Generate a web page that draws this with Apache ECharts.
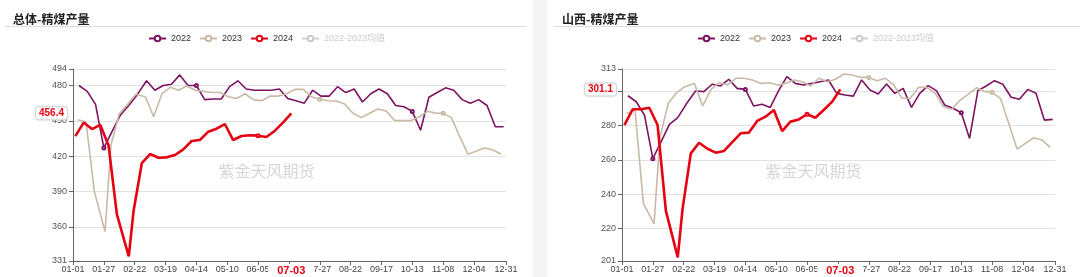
<!DOCTYPE html>
<html><head><meta charset="utf-8">
<script src="https://cdn.jsdelivr.net/npm/echarts@6/dist/echarts.min.js"></script>
<style>
html,body{margin:0;padding:0;background:#f4f4f4;width:1080px;height:277px;overflow:hidden;}
.panel{position:absolute;top:0;height:277px;width:533px;background:#fff;}
#c1{left:0;} #c2{left:547px;}
</style></head><body>
<div id="c1" class="panel"></div><div id="c2" class="panel"></div>
<script>
// ---- categories (leap-year day axis MM-DD) ----
const monthLengths = [31,29,31,30,31,30,31,31,30,31,30,31];
const categories = [];
monthLengths.forEach((n, m) => { for (let d = 1; d <= n; d++) categories.push(String(m + 1).padStart(2, '0') + '-' + String(d).padStart(2, '0')); });

const legendNames = ['2022', '2023', '2024', '2022-2023均值'];

// ---- dates of the weekly observations ----
const dates2022 = ['01-06','01-13','01-20','01-27','02-03','02-10','02-17','02-24','03-03','03-10','03-17','03-24','03-31','04-07','04-14','04-21','04-28','05-05','05-12','05-19','05-26','06-02','06-09','06-16','06-23','06-30','07-07','07-14','07-21','07-28','08-04','08-11','08-18','08-25','09-01','09-08','09-15','09-22','09-29','10-06','10-13','10-20','10-27','11-03','11-10','11-17','11-24','12-01','12-08','12-15','12-22','12-29'];
const dates2023 = ['01-05','01-12','01-19','01-28','02-02','02-09','02-16','02-23','03-02','03-09','03-16','03-23','03-30','04-06','04-13','04-20','04-27','05-04','05-11','05-18','05-25','06-01','06-08','06-15','06-22','06-29','07-06','07-13','07-20','07-27','08-03','08-10','08-17','08-24','08-31','09-07','09-14','09-21','09-28','10-05','10-12','10-19','10-26','11-02','11-08','11-15','11-22','11-29','12-06','12-13','12-20','12-27'];
const dates2024 = ['01-03','01-10','01-17','01-24','01-31','02-07','02-17','02-21','02-28','03-06','03-13','03-20','03-27','04-03','04-10','04-17','04-24','05-01','05-08','05-15','05-22','05-29','06-05','06-12','06-19','06-26','07-03'];

// ---- 总体-精煤产量 ----
const total2022 = [480,475,464,427,441,455,463,472,484,476,480,481,489,480,480,468,468.5,468.5,479,484,477,476,476,476,477,469,467,465,476,471,471,479,474,477,466,473,477,473,463,462,458,442,470,474,478,476,468,465,468,463,445,445];
const total2023 = [451,449,390,356,429.5,456,464,472.5,470.5,453.5,473,478.5,476,479.5,476,475,474,474,470.5,469,473,468,467,471,471,473,476.7,476.7,470.5,468.3,467,466.8,464.3,456.4,452.7,456.4,460,458.3,450.4,450.2,450.2,453.5,458.1,456.4,456.4,452.7,436.6,421.6,424.4,426.9,425.2,421.6];
const total2024 = [437,448.5,443,446.5,429,370.5,335,373,414,421.8,418.7,419,421,425.8,432.9,433.7,440.8,443.3,447.3,433.7,437.1,437.7,437.4,436.3,441.4,448.5,456.4];

// ---- 山西-精煤产量 ----
const sx2022 = [297.4,293.9,286,260.7,270.6,280.7,284.6,292.4,300.2,299.8,304.1,303.1,307,301.7,301.1,291.4,292.4,290.6,300.4,308.5,304.6,303.7,304.6,305.6,306.6,298.8,297.8,297.2,306.6,300.7,298.4,304.2,298.8,301.7,290.6,298.8,303.3,300.4,292,290.1,287.5,272.5,300.4,303.1,306.2,304.1,296.5,295.3,301.1,298.8,283.2,283.6];
const sx2023 = [287.1,289.1,234.6,222.6,273.1,293,299.2,302.7,304.6,291.4,301.1,305,303.7,307.6,307.6,306.6,304.6,305,303.7,304.6,306.6,305.6,303.1,307.6,305.6,307,310.1,309.5,308.1,308.1,306.2,307.6,303.7,295.9,295.9,302.3,302.3,298.8,291,289.5,294.9,298.4,302.1,299.8,299.4,295.9,281.3,266.3,269.6,272.9,271.6,267.3];
const sx2024 = [280.3,289.5,289.5,290.4,280.3,230.2,203.1,231.1,263.8,270,266.5,264.2,265.2,270.4,275.5,275.9,282.7,285.2,289.1,276.8,282.3,283.6,286.6,284.6,289.1,293.8,301.1];

const labelIdx = (i) => (i % 26 === 0 && i <= 338) || i === 365;
const FONT = 'Liberation Sans, Noto Sans CJK SC, sans-serif';
const C22 = '#7d1461', C23 = '#c9baa8', C24 = '#e60012', CAVG = '#bbbbbb';

function pairs(dates, vals) { return dates.map((d, i) => [d, vals[i]]); }

function makeOption(cfg) {
  const line = (name, color, width, data, z) => ({
    name, type: 'line', data, symbol: 'emptyCircle', symbolSize: 3, z,
    lineStyle: { color, width }, itemStyle: { color, borderWidth: 1 }, emphasis: { disabled: true }, animation: false
  });
  return {
    animation: false,
    textStyle: { fontFamily: FONT },
    title: { text: cfg.title, left: cfg.titleLeft, top: 8, textStyle: { fontSize: 12, fontWeight: 'bold', color: '#222', fontFamily: 'Noto Sans CJK SC' } },
    graphic: [
      { type: 'line', shape: { x1: cfg.sepX1, y1: 26.5, x2: cfg.sepX2, y2: 26.5 }, style: { stroke: '#dddddd', lineWidth: 1 }, silent: true },
      { type: 'text', left: 'center', top: 163, style: { text: '紫金天风期货', fill: '#d6d6d6', font: '16px "Noto Sans CJK SC"' }, silent: true, z: 0 }
    ],
    legend: {
      data: legendNames, left: cfg.legendLeft, top: 29, itemWidth: 17, itemHeight: 7, itemGap: 8,
      textStyle: { fontSize: 9, color: '#333', fontFamily: FONT }, inactiveColor: '#cccccc',
      selected: { '2022-2023均值': false }
    },
    grid: { left: cfg.gridLeft, right: cfg.gridRight, top: 69, bottom: 16 },
    xAxis: {
      type: 'category', data: categories, boundaryGap: false,
      axisLine: { lineStyle: { color: '#666' } },
      axisTick: { interval: labelIdx, length: 4, lineStyle: { color: '#666' } },
      axisLabel: { interval: labelIdx, fontSize: 9, color: '#444', margin: 4, fontFamily: FONT },
      splitLine: { show: false },
      axisPointer: {
        show: true, type: 'none', value: 184, status: 'show', triggerTooltip: false,
        label: { show: true, color: C24, fontWeight: 'bold', fontSize: 11, backgroundColor: '#fff', padding: [1, 9], margin: 3, fontFamily: FONT }
      }
    },
    yAxis: {
      type: 'value', min: cfg.yMin, max: cfg.yMax, scale: true,
      axisLine: { show: true, lineStyle: { color: '#666' } },
      axisTick: { show: true, length: 4, lineStyle: { color: '#666' } },
      axisLabel: { fontSize: 9, color: '#555', margin: 6, fontFamily: FONT },
      splitLine: { lineStyle: { color: '#e2e2e2' } },
      axisPointer: {
        show: true, type: 'none', value: cfg.last, status: 'show', triggerTooltip: false,
        label: { show: true, formatter: (p) => Number(p.value).toFixed(1), color: C24, fontWeight: 'bold', fontSize: 10,
          backgroundColor: '#fff', borderColor: '#e0e0e0', borderWidth: 1, padding: [1, 3], margin: 6,
          shadowColor: 'rgba(0,0,0,0.15)', shadowBlur: 2, fontFamily: FONT }
      }
    },
    series: [
      line('2022', C22, 1.6, pairs(dates2022, cfg.s22), 2),
      line('2023', C23, 1.6, pairs(dates2023, cfg.s23), 2),
      line('2024', C24, 2.6, pairs(dates2024, cfg.s24), 3),
      line('2022-2023均值', CAVG, 1.5, [], 1)
    ]
  };
}

const ch1 = echarts.init(document.getElementById('c1'), null, { renderer: 'canvas' });
ch1.setOption(makeOption({ title: '总体-精煤产量', titleLeft: 8, sepX1: 5, sepX2: 526, legendLeft: 143,
  gridLeft: 73, gridRight: 27, yMin: 331, yMax: 494, last: 456.4, s22: total2022, s23: total2023, s24: total2024 }));
const ch2 = echarts.init(document.getElementById('c2'), null, { renderer: 'canvas' });
ch2.setOption(makeOption({ title: '山西-精煤产量', titleLeft: 10, sepX1: 7, sepX2: 533, legendLeft: 145,
  gridLeft: 75, gridRight: 25, yMin: 201, yMax: 313, last: 301.1, s22: sx2022, s23: sx2023, s24: sx2024 }));
</script></body></html>
